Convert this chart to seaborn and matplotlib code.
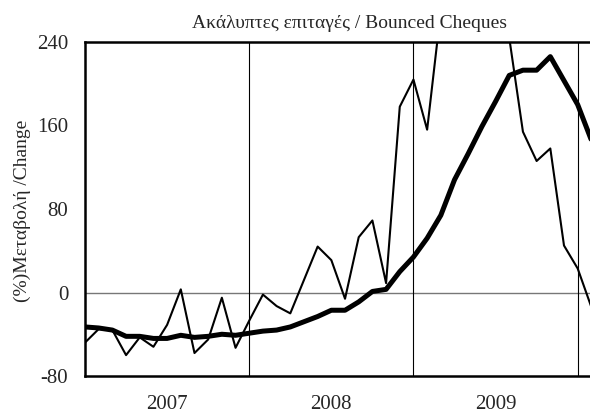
import seaborn as sns
import matplotlib.pyplot as plt
import pandas as pd
import numpy as np

# monthly series, Jan 2007 onwards
bounced_monthly = [-48, -35, -36, -60, -43, -52, -31, 3, -58, -45, -5, -53,
                   -27, -2, -13, -20, 12, 44, 31, -6, 53, 69, 9, 178,
                   204, 156, 270, 300, 320, 300, 280, 244, 154, 126, 138, 45,
                   23, -14]
bounced_trend = [-33, -34, -36, -42, -42, -44, -44, -41, -43, -42, -40, -41,
                 -39, -37, -36, -33, -28, -23, -17, -17, -9, 1, 3, 20,
                 34, 52, 74, 108, 133, 159, 183, 208, 213, 213, 226, 203,
                 180, 146]
years = ['2007', '2008', '2009']
y_ticks = [-80, 0, 80, 160, 240]

df = pd.DataFrame({'month': np.arange(len(bounced_monthly)),
                   'monthly': bounced_monthly,
                   'trend': bounced_trend})

sns.set_style('white')
plt.rcParams['font.family'] = ['Liberation Serif', 'DejaVu Serif']

fig = plt.figure(figsize=(5.9, 4.15), dpi=100)
ax = fig.add_axes([85 / 590, 1 - 376 / 415, (590 - 85) / 590, 334 / 415])

# grid lines
ax.axhline(0, color='#777777', lw=1.0, zorder=1)
for b in [12, 24, 36]:
    ax.axvline(b, color='black', lw=0.8, zorder=1)

sns.lineplot(data=df, x='month', y='monthly', ax=ax, color='black', lw=1.5, zorder=3)
sns.lineplot(data=df, x='month', y='trend', ax=ax, color='black', lw=3.6, zorder=4)

ax.set_xlim(0, 36.9)
ax.set_ylim(-80, 240)
ax.set_yticks(y_ticks)
ax.set_yticklabels([str(v) for v in y_ticks], fontsize=15)
ax.set_xticks([6, 18, 30])
ax.set_xticklabels(years, fontsize=15)
ax.tick_params(axis='x', length=0, pad=14)
ax.tick_params(axis='y', direction='in', length=4, width=1, color='black', pad=12)
ax.set_xlabel('')
ax.set_ylabel('')

for s in ['left', 'bottom', 'top']:
    ax.spines[s].set_linewidth(1.8)
    ax.spines[s].set_color('black')
ax.spines['right'].set_visible(False)

fig.text(22 / 590, 1 - 211 / 415, '(%)Μεταβολή /Change', rotation=90,
         ha='center', va='center', fontsize=14)
fig.text(350 / 590, 1 - 23 / 415, 'Ακάλυπτες επιταγές / Bounced Cheques',
         ha='center', va='center', fontsize=14)

fig.savefig('out.png', dpi=100)
